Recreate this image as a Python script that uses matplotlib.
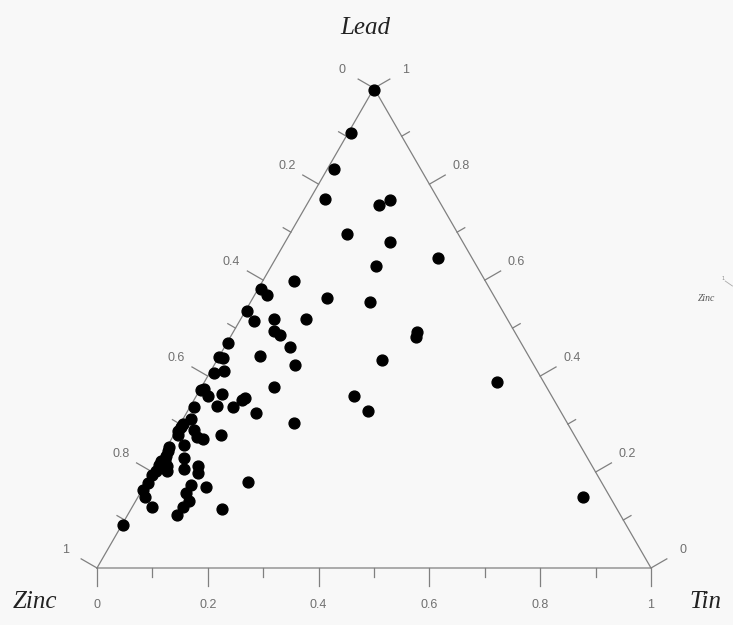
import numpy as np
import matplotlib
matplotlib.use("Agg")
import matplotlib.pyplot as plt

# compositions (fractions)
tin = [0.002, 0.005, 0.012, 0.027, 0.131, 0.144, 0.103, 0.188, 0.292, 0.189,
       0.057, 0.005, 0.022, 0.135, 0.215, 0.118, 0.002, 0.026, 0.060, 0.073,
       0.088, 0.118, 0.073, 0.146, 0.002, 0.000, 0.008, 0.023, 0.008, 0.298,
       0.331, 0.336, 0.529, 0.284, 0.325, 0.205, 0.803, 0.131, 0.006, 0.002,
       0.021, 0.045, 0.008, 0.048, 0.090, 0.086, 0.077, 0.125, 0.015, 0.004,
       0.005, 0.003, 0.007, 0.031, 0.043, 0.057, 0.086, 0.029, 0.004, 0.006,
       0.008, 0.010, 0.005, 0.005, 0.021, 0.026, 0.005, 0.003, 0.042, 0.054,
       0.075, 0.082, 0.004, 0.002, 0.012, 0.035, 0.083, 0.112, 0.183, 0.082,
       0.096, 0.092, 0.089, 0.164, 0.003]
lead = [0.996, 0.906, 0.831, 0.770, 0.757, 0.768, 0.696, 0.680, 0.647, 0.629,
        0.598, 0.581, 0.569, 0.562, 0.554, 0.518, 0.536, 0.514, 0.520, 0.494,
        0.486, 0.460, 0.442, 0.424, 0.470, 0.440, 0.438, 0.411, 0.406, 0.434,
        0.492, 0.481, 0.387, 0.359, 0.327, 0.302, 0.149, 0.378, 0.374, 0.370,
        0.358, 0.363, 0.335, 0.337, 0.354, 0.350, 0.336, 0.324, 0.311, 0.301,
        0.293, 0.286, 0.277, 0.287, 0.274, 0.268, 0.277, 0.257, 0.253, 0.244,
        0.234, 0.226, 0.222, 0.215, 0.212, 0.202, 0.202, 0.193, 0.229, 0.207,
        0.213, 0.199, 0.177, 0.162, 0.149, 0.127, 0.172, 0.169, 0.179, 0.156,
        0.140, 0.127, 0.111, 0.122, 0.089]

major_ticks = [0, 0.2, 0.4, 0.6, 0.8, 1.0]
tick_labels = ['0', '0.2', '0.4', '0.6', '0.8', '1']
minor_ticks = [0.1, 0.3, 0.5, 0.7, 0.9]

H = np.sqrt(3) / 2


def to_xy(t, l):
    """ternary (tin, lead) -> cartesian, zinc at bottom left"""
    t = np.asarray(t)
    l = np.asarray(l)
    return t + 0.5 * l, H * l


line_col = '#808080'
text_col = '#707070'

fig = plt.figure(figsize=(7.33, 6.25), dpi=100, facecolor='#f8f8f8')
ax = fig.add_axes([0, 0, 1, 1])
ax.set_facecolor('#f8f8f8')
ax.axis('off')
ax.set_xlim(-97 / 554, 636 / 554)
ax.set_ylim(-57 / 554, 568 / 554)

# triangle outline
ax.plot([0, 1, 0.5, 0], [0, 0, H, 0], color=line_col, lw=0.9, zorder=1)

n_left = np.array([-H, 0.5])
n_right = np.array([H, 0.5])
n_bottom = np.array([0.0, -1.0])
L_major, L_minor, L_text = 0.033, 0.016, 0.066


def axis_point(side, v):
    if side == 'bottom':   # tin
        return np.array(to_xy(v, 0))
    if side == 'right':    # lead
        return np.array(to_xy(1 - v, v))
    return np.array(to_xy(0, 1 - v))  # zinc on the left


for side, n in [('bottom', n_bottom), ('right', n_right), ('left', n_left)]:
    for v, lab in zip(major_ticks, tick_labels):
        p = axis_point(side, v)
        q = p + n * L_major
        ax.plot([p[0], q[0]], [p[1], q[1]], color=line_col, lw=0.9, zorder=1)
        s = p + n * L_text
        ax.text(s[0], s[1], lab, ha='center', va='center', fontsize=9,
                color=text_col, family='Liberation Sans')
    for v in minor_ticks:
        p = axis_point(side, v)
        q = p + n * L_minor
        ax.plot([p[0], q[0]], [p[1], q[1]], color=line_col, lw=0.9, zorder=1)

# data points
x, y = to_xy(tin, lead)
ax.plot(x, y, 'o', color='black', markersize=7.8, zorder=3)

# vertex names
title_kw = dict(fontsize=18, style='italic', family='Liberation Serif',
                color='#222222', ha='center', va='center')
ax.text(0.485, 0.975, 'Lead', **title_kw)
ax.text(-0.112, -0.062, 'Zinc', **title_kw)
ax.text(1.099, -0.062, 'Tin', **title_kw)

# stray small label at the right edge
ax.text(1.101, 0.486, 'Zinc', fontsize=7, style='italic',
        family='Liberation Serif', color='#555555', ha='center', va='center')
ax.text(1.130, 0.522, '1', fontsize=3.5, color='#888888', ha='center', va='center')
ax.plot([1.134, 1.147], [0.518, 0.509], color='#aaaaaa', lw=0.6)

fig.savefig('out.png', dpi=100, facecolor=fig.get_facecolor())
